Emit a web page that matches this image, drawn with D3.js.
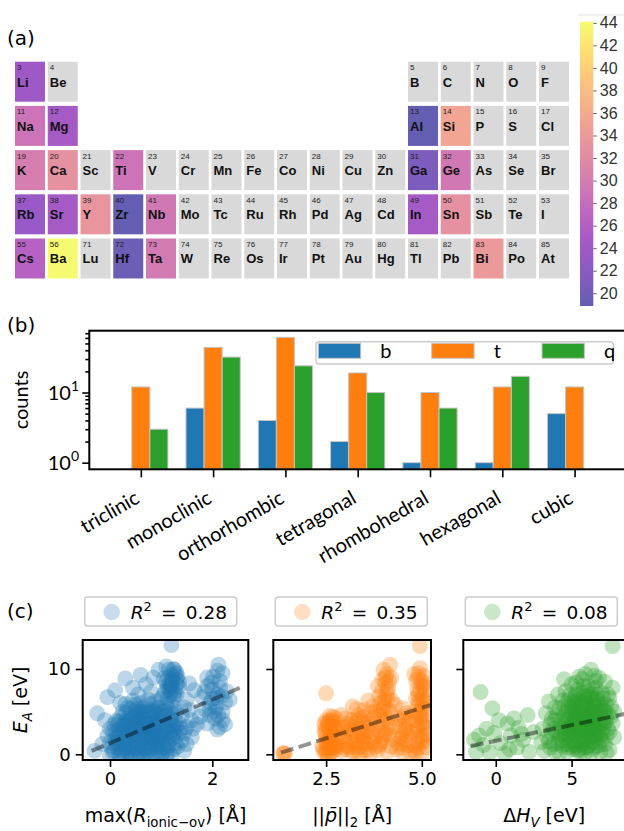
<!DOCTYPE html>
<html>
<head>
<meta charset="utf-8">
<script src="https://cdn.jsdelivr.net/npm/d3@7"></script>
<style>
  body { margin: 0; background: #fff; }
  svg { display: block; }
</style>
</head>
<body>
<svg id="fig" width="624" height="831"></svg>
<script>
// ---------- data ----------
// (a) periodic table: all shown elements, and the ones that carry a value
var ptSymbols = ["Li","Be","B","C","N","O","F",
  "Na","Mg","Al","Si","P","S","Cl",
  "K","Ca","Sc","Ti","V","Cr","Mn","Fe","Co","Ni","Cu","Zn","Ga","Ge","As","Se","Br",
  "Rb","Sr","Y","Zr","Nb","Mo","Tc","Ru","Rh","Pd","Ag","Cd","In","Sn","Sb","Te","I",
  "Cs","Ba","Lu","Hf","Ta","W","Re","Os","Ir","Pt","Au","Hg","Tl","Pb","Bi","Po","At"];
var ptNumbers = [3,4,5,6,7,8,9,
  11,12,13,14,15,16,17,
  19,20,21,22,23,24,25,26,27,28,29,30,31,32,33,34,35,
  37,38,39,40,41,42,43,44,45,46,47,48,49,50,51,52,53,
  55,56,71,72,73,74,75,76,77,78,79,80,81,82,83,84,85];
var valueSymbols = ["Li","Na","Mg","K","Ca","Ti","Rb","Sr","Y","Zr","Nb","Cs","Ba","Hf","Ta","Al","Si","Ga","Ge","In","Sn","Bi"];
var valueNumbers = [24, 29, 24.5, 30.3, 32.8, 29, 23.5, 24.5, 33.3, 19, 29.5, 26.5, 44, 19.5, 29.8, 19, 35.3, 20.7, 29.5, 24.5, 32.8, 34];
var cbarDomain = [18.87, 44.1];
var cbarTicks = [20, 22, 24, 26, 28, 30, 32, 34, 36, 38, 40, 42, 44];

// (b) counts per crystal system
var crystalSystems = ["triclinic","monoclinic","orthorhombic","tetragonal","rhombohedral","hexagonal","cubic"];
var seriesNames = ["b", "t", "q"];
var countsB = [0, 6, 4, 2, 1, 1, 5];
var countsT = [12, 44, 61, 19, 10, 12, 12];
var countsQ = [3, 32, 24, 10, 6, 17, 0];
var logMajorTicks = [1, 10];
var logMinorTicks = [2,3,4,5,6,7,8,9,20,30,40,50,60,70];

// (c) E_A against three descriptors
var rIonicPts = [[0.05,0.3],[0.15,0.8],[0.25,0.2],[0.35,1.0],[0.45,0.5],[0.55,0.1],[0.65,0.9],[0.75,0.4],[0.85,1.1],[0.95,0.3],[1.05,0.8],[1.15,0.2],[1.25,0.6],
  [0.1,1.8],[0.2,2.4],[0.3,1.6],[0.4,2.2],[0.5,1.5],[0.6,2.6],[0.7,1.9],[0.8,2.3],[0.9,1.7],[1.0,2.5],[1.1,1.9],[1.2,2.8],[1.3,2.1],
  [0.0,3.0],[0.15,3.4],[0.25,2.9],[0.35,3.6],[0.45,3.1],[0.55,3.8],[0.65,3.2],[0.75,3.7],[0.85,3.0],[0.95,3.5],[1.05,3.9],[1.15,3.3],[1.35,3.6],
  [0.2,4.3],[0.3,4.8],[0.4,4.1],[0.5,4.6],[0.6,4.2],[0.7,5.0],[0.8,4.4],[0.9,4.9],[1.0,4.3],[1.1,4.7],[1.2,4.2],[1.4,4.5],
  [0.35,5.5],[0.5,5.8],[0.65,5.4],[0.8,5.9],[0.95,5.5],[1.1,5.8],[0.45,6.3],[0.75,6.4],[1.0,6.5],
  [0.4,1.2],[0.6,1.4],[0.8,0.7],[0.5,2.9],[0.7,2.7],[0.6,3.5],[0.4,3.3],[0.9,2.6],[0.3,0.6],[0.7,0.2],[0.55,4.0],[0.85,3.8],[1.0,1.2],[1.15,1.4],[0.2,1.1],[0.1,2.5],[0.0,1.4],[-0.05,2.2],
  [0.28,2.0],[0.52,2.1],[0.62,1.1],[0.78,1.6],[0.88,0.2],[0.72,3.3],[0.48,3.6],[0.33,4.2],[0.58,4.9],[0.82,5.1],[1.08,5.1],[0.92,4.0],[1.22,3.5],[1.28,1.3],[0.18,0.1],[0.42,-0.1],[0.68,0.6],[0.98,2.0],[1.18,2.4],[0.12,3.9],
  [0.02,0.9],[0.12,1.3],[0.22,0.5],[0.32,1.9],[0.42,0.9],[0.52,1.2],[0.62,0.3],[0.72,1.3],[0.82,1.8],[0.92,0.9],[1.02,1.7],[1.12,0.6],[1.22,1.9],[1.32,0.9],
  [0.05,2.6],[0.15,2.0],[0.25,3.3],[0.35,2.6],[0.45,1.8],[0.55,2.4],[0.65,2.0],[0.75,2.4],[0.85,2.8],[0.95,2.3],[1.05,2.9],[1.15,2.6],[1.25,3.2],[1.35,2.6],
  [0.08,3.5],[0.18,3.8],[0.28,3.4],[0.38,3.9],[0.48,4.3],[0.58,3.3],[0.68,4.0],[0.78,3.1],[0.88,4.3],[0.98,3.8],[1.08,3.4],[1.18,4.0],[1.28,4.0],[1.38,3.0],
  [0.25,5.0],[0.4,5.3],[0.55,5.3],[0.7,5.6],[0.85,5.0],[1.0,5.0],[1.15,5.3],[1.3,5.0],[0.6,6.0],[0.9,6.2],[1.2,6.0],[0.3,5.9],
  [0.48,0.7],[0.58,1.8],[0.68,2.3],[0.78,2.9],[0.88,3.4],[0.98,4.6],[0.38,2.9],[0.28,1.2],[0.62,4.6],[0.72,4.4],[0.92,1.4],[1.02,0.2],[0.18,2.9],[0.08,0.4],
  [0.15,1.5],[0.35,0.3],[0.55,0.7],[0.75,1.0],[0.95,1.3],[1.15,1.0],[0.25,2.6],[0.45,2.6],[0.65,2.9],[0.85,2.0],[1.05,2.2],[1.25,2.4],[0.3,3.8],[0.5,3.4],[0.7,3.6],[0.9,3.2],[1.1,3.0],[1.3,3.3],[0.4,4.6],[0.6,5.0],[0.8,4.8],[1.0,4.6],[1.2,4.8],[0.5,5.2],[0.9,5.5],[1.25,5.5],
  [1.05,7.0],[1.15,7.6],[1.2,8.2],[1.25,7.2],[1.3,8.8],[1.1,8.5],[1.2,9.3],[1.15,9.9],[1.3,9.6],[1.35,7.9],[1.1,10.3],[1.25,6.8],[1.2,8.0],[1.3,8.3],[1.18,7.0],[1.22,8.9],
  [1.08,7.4],[1.18,7.9],[1.28,7.5],[1.12,8.0],[1.22,8.6],[1.32,9.1],[1.14,9.0],[1.26,9.9],[1.05,8.9],[1.35,8.5],[1.12,6.5],[1.2,7.4],[1.3,7.0],[1.16,8.4],[1.28,9.4],[1.24,10.0],
  [1.2,12.8],
  [-0.25,4.8],[-0.05,6.7],[0.3,8.9],[0.6,9.3],[0.95,9.9],[0.1,7.5],[0.45,7.8],[0.7,8.2],[0.8,7.3],[0.2,6.0],[-0.1,4.0],[0.55,7.0],[0.85,9.0],[-0.3,0.4],[-0.15,1.2],
  [1.45,2.5],[1.5,3.2],[1.55,5.2],[1.6,4.0],[1.5,6.4],[1.65,7.5],[1.45,5.5],[1.6,2.0],[1.7,3.5],[1.5,1.2],[1.4,1.6],[1.55,8.3],[1.45,0.4],[1.62,3.0],
  [1.76,4.4],[1.85,5.3],[1.95,6.0],[2.02,9.1],[2.12,10.5],[2.15,3.2],[2.2,4.0],[2.25,6.1],[2.34,6.4],[2.1,7.0],[1.9,8.0],[2.05,5.0],[2.15,8.6],[2.0,7.6],[1.8,6.7],[2.2,9.5],[1.9,3.6],[2.1,2.9],[2.28,7.4],[2.05,4.2],
  [1.9,9.0],[2.1,9.8],[2.0,6.5],[2.2,5.0],[1.95,4.6],[2.25,3.5],[1.85,7.3],[2.15,7.8],[2.08,5.6],[1.98,8.4],[2.08,6.6],[2.18,6.8],[1.95,5.4],[2.12,4.6],
  [0.2,-0.3],[0.4,-0.4],[0.6,-0.4],[0.8,-0.1],[1.0,-0.3],[1.2,-0.2],[0.0,-0.2],[0.3,-0.1],[0.5,-0.3],[0.7,-0.2],[0.9,-0.4],[1.1,-0.1]];

var pNormPts = [[1.38,0.1],[1.42,0.05],[1.4,0.15],[2.5,7.15],
  [2.45,0.2],[2.55,0.8],[2.65,0.3],[2.5,1.5],[2.6,2.0],[2.7,1.2],[2.45,2.7],[2.55,3.3],[2.65,2.6],[2.5,4.0],[2.6,4.5],[2.7,3.8],[2.75,0.6],[2.4,1.0],[2.55,-0.2],[2.7,2.9],[2.8,1.8],[2.45,3.6],[2.6,1.0],[2.75,4.2],
  [2.42,0.6],[2.52,1.1],[2.62,1.6],[2.72,2.2],[2.48,2.4],[2.58,2.9],[2.68,3.4],[2.48,3.1],[2.58,3.9],[2.68,4.4],[2.52,0.1],[2.78,1.0],[2.62,0.2],[2.75,3.1],
  [2.5,0.5],[2.6,1.3],[2.7,0.8],[2.5,2.0],[2.6,2.5],[2.7,3.2],[2.55,3.7],[2.65,4.0],
  [2.9,0.4],[3.0,1.5],[3.1,0.8],[3.2,2.3],[3.3,1.1],[3.4,3.0],[3.5,0.5],[3.6,2.0],[3.7,1.4],[2.95,3.2],[3.15,4.0],[3.35,4.6],[3.55,3.6],[3.75,4.3],[3.05,2.6],[3.25,0.2],[3.45,1.8],[3.65,0.1],[2.9,4.6],[3.3,5.3],[3.6,6.3],[3.5,5.2],[3.2,5.6],[3.1,2.9],[3.4,0.9],[3.7,2.8],
  [2.85,0.9],[2.95,2.0],[3.05,1.0],[3.15,1.8],[3.25,2.7],[3.35,2.0],[3.45,3.8],[3.55,1.2],[3.65,3.2],[3.75,2.0],[2.88,2.7],[3.08,3.6],[3.28,3.6],[3.48,2.6],[3.68,4.9],[3.18,0.3],[3.38,0.1],[3.58,0.5],[3.78,0.9],[3.0,4.2],[3.4,4.2],[3.7,5.6],
  [3.0,0.6],[3.2,1.4],[3.4,2.3],[3.6,2.6],[3.1,3.4],[3.3,4.0],[3.5,4.4],[3.7,3.6],[3.3,0.6],[3.5,1.4],[3.8,5.0],
  [3.85,0.5],[3.95,1.5],[4.05,2.5],[4.15,3.5],[3.9,4.5],[4.0,5.5],[4.1,6.5],[3.95,7.4],[4.05,8.3],[4.0,9.9],[4.17,10.5],[4.2,9.0],[3.85,8.0],[4.1,0.3],[4.25,1.8],[3.9,2.8],[4.2,4.8],[4.1,7.0],[3.9,6.0],[4.3,5.8],[4.0,3.9],[4.2,0.9],
  [3.88,1.0],[3.98,2.0],[4.08,3.0],[4.18,2.2],[3.92,3.5],[4.02,4.6],[4.12,5.2],[3.92,5.2],[4.02,6.4],[4.12,7.8],[3.98,8.8],[4.08,9.4],[3.88,6.8],[4.22,6.3],[4.15,8.6],
  [3.9,1.2],[4.0,2.3],[4.1,4.2],[4.0,6.0],[4.1,7.4],[4.05,9.0],[4.3,3.2],
  [4.35,0.6],[4.45,1.9],[4.55,3.0],[4.65,1.0],[4.4,4.1],[4.6,4.8],[4.5,0.2],[4.7,2.6],[4.5,5.4],[4.65,3.9],
  [4.38,1.3],[4.48,2.4],[4.58,1.6],[4.68,0.3],[4.42,3.4],[4.52,4.4],[4.62,2.2],[4.72,4.4],[4.45,0.8],[4.5,1.2],[4.6,2.8],[4.55,4.0],
  [4.8,0.4],[4.9,1.3],[5.0,2.2],[5.1,3.1],[4.85,4.0],[4.95,5.0],[5.05,6.0],[4.9,7.0],[5.0,8.0],[4.95,10.1],[5.05,9.2],[4.85,8.6],[5.1,7.5],[4.8,2.7],[5.1,0.8],[4.95,12.7],[5.0,3.6],[4.9,5.8],[5.05,4.5],[4.85,6.5],[5.1,5.3],[4.8,9.4],[5.0,0.1],
  [4.82,1.0],[4.92,2.0],[5.02,1.5],[5.12,2.3],[4.88,3.3],[4.98,4.3],[5.08,3.8],[4.82,5.0],[4.92,6.2],[5.02,6.8],[5.12,6.3],[4.88,7.6],[4.98,8.6],[5.08,8.4],[4.92,9.5],[5.02,5.5],[4.85,0.2],[5.15,1.5],
  [4.9,0.7],[5.0,1.8],[4.9,2.9],[5.05,3.3],[4.95,4.6],[5.0,6.4],[4.95,7.4],[5.05,8.0],[4.9,9.0]];

var dHvPts = [[-1.43,1.7],[-1.0,7.3],[-0.22,5.4],[0.77,3.6],[2.1,4.6],[-1.3,0.3],[-0.8,1.1],[-0.4,0.2],[-0.1,2.5],[0.3,1.3],[0.6,0.1],[1.0,2.2],[1.4,0.8],[1.5,3.1],[1.8,1.7],[2.2,0.3],[2.5,2.6],[-0.6,3.0],[0.2,4.0],[1.2,4.2],[-1.1,2.2],[0.9,0.6],[1.7,2.4],
  [3.2,0.4],[3.4,2.0],[3.6,3.5],[3.3,4.8],[3.8,1.2],[3.9,5.5],[4.0,2.6],[4.2,0.2],[4.2,4.0],[4.4,6.3],[4.4,1.6],[4.5,3.2],[4.6,7.4],[4.7,5.0],[4.8,0.8],[4.8,2.3],[4.9,4.1],[5.0,6.0],[5.0,8.2],[5.1,1.5],[5.2,3.0],[5.2,5.2],[5.3,7.0],[5.4,0.4],[5.4,2.2],[5.5,4.3],[5.5,9.1],[5.6,6.2],[5.7,1.2],[5.7,3.4],[5.8,5.0],[5.8,8.0],[5.9,0.2],[6.0,2.6],[6.0,4.4],[6.1,6.8],[6.2,1.6],[6.2,3.6],[6.28,9.9],[6.3,5.5],[6.4,7.6],[6.4,0.6],[6.5,2.8],[6.5,4.7],[6.6,8.6],[6.7,1.8],[6.7,6.0],[6.8,3.6],[6.9,0.3],[6.9,5.0],[7.0,7.2],[7.0,2.4],[7.1,4.0],[7.2,8.5],[7.2,1.2],[7.3,5.8],[7.4,3.0],[7.5,6.6],[7.5,0.5],[7.6,4.4],[7.7,12.7],[7.8,2.0],[7.7,7.8],[3.5,6.2],[4.1,7.0],[3.0,1.4],[3.1,3.0],[4.5,8.8],[5.9,9.4],[6.8,9.0],
  [4.6,2.0],[4.9,3.2],[5.1,4.6],[5.3,1.0],[5.6,2.8],[5.9,4.0],[6.1,1.0],[6.3,3.0],[6.5,5.6],[6.7,3.0],[5.0,5.4],[5.4,6.4],[5.8,6.8],[6.0,5.2],[6.4,6.4],[5.2,2.4],[5.6,4.8],[6.6,2.2],[4.7,4.0],[5.5,0.6],[6.2,4.6],[7.0,5.8],[4.3,3.0],[5.9,1.8],
  [4.4,1.0],[4.6,3.8],[4.8,5.6],[5.0,2.8],[5.1,0.6],[5.2,4.0],[5.3,6.0],[5.4,3.4],[5.5,1.6],[5.6,5.6],[5.7,7.2],[5.8,2.2],[5.9,3.0],[6.0,0.8],[6.0,6.2],[6.1,3.8],[6.2,2.4],[6.3,7.0],[6.4,4.0],[6.5,1.4],[6.6,3.4],[6.6,5.0],[6.7,7.0],[6.8,2.6],[6.9,4.4],[7.0,1.6],[7.1,3.2],[7.2,5.0],[7.3,2.2],[7.4,4.8],[4.2,2.0],[4.0,4.6],[3.8,3.0],[4.5,5.6],[4.9,7.0],[5.3,8.4],[5.7,8.8],[6.1,8.0],[6.5,9.2],[7.1,6.6],[3.6,0.8],[3.9,0.3],[5.2,1.2],[5.6,0.3],[6.3,0.2],[6.8,1.0],[7.3,0.2],[4.7,0.3],
  [5.05,3.6],[5.35,4.8],[5.65,3.9],[5.95,5.6],[6.25,5.1],[6.55,3.9],[6.85,5.6],[5.45,2.6],[5.75,1.9],[6.05,3.2],[6.35,2.0],[6.65,6.4],[4.85,1.6],[5.15,5.8],[5.85,4.4],[6.45,6.0],[7.25,3.8],[4.55,2.6],
  [4.75,3.0],[5.25,3.5],[5.55,5.0],[5.95,2.6],[6.15,4.2],[6.45,3.2],[6.75,4.8],[5.05,1.0],[5.85,0.8],[6.55,0.9],[4.95,4.8],[5.75,6.0],[6.35,6.6],[7.05,3.6],
  [3.5,1.5],[3.7,2.5],[3.9,4.0],[4.1,1.3],[4.3,2.3],[4.5,4.4],[4.7,1.2],[4.9,2.5],[5.1,3.3],[5.3,4.3],[5.5,3.0],[5.7,4.6],[5.9,6.2],[6.1,2.0],[6.3,4.0],[6.5,2.2],[6.7,4.2],[6.9,2.0],[7.1,5.2],[7.3,4.2],[7.5,2.6],[7.6,5.6],[7.4,7.0],[6.0,7.4],[5.4,7.6],[4.8,6.4],[4.2,5.4],[3.7,4.2],[5.2,6.6],[6.6,7.8],[7.7,3.6],[7.8,5.0]];

var fitSlopes = [2.55, 1.43, 0.37];
var fitIntercepts = [1.31, -1.70, 1.58];
var fitRanges = [[-0.36, 2.55], [1.32, 5.24], [-1.65, 8.5]];
var r2Labels = ["0.28", "0.35", "0.08"];

// ---------- figure ----------
var svg = d3.select("#fig");
var DEJAVU = "'DejaVu Sans', sans-serif",
    LATO = "Lato, sans-serif",
    ARIAL = "'Liberation Sans', Arial, sans-serif";

// mathtext-like labels: parts with italic / sub / sup
function richText(sel, parts, size) {
  var shift = 0;
  parts.forEach(function(p) {
    var target = p.sub ? 0.25 * size : p.sup ? -0.42 * size : 0;
    var ts = sel.append("tspan").text(p.t).attr("dy", target - shift);
    shift = target;
    if (p.sub || p.sup) ts.attr("font-size", size * 0.7);
    if (p.it) ts.attr("font-style", "italic");
  });
}

function panelLabel(txt, x, y) {
  svg.append("text").attr("x", x).attr("y", y)
    .attr("font-family", DEJAVU).attr("font-size", 20).text(txt);
}

// ===== (a) periodic table =====
panelLabel("(a)", 7, 45);

function period(z) { return z <= 10 ? 2 : z <= 18 ? 3 : z <= 36 ? 4 : z <= 54 ? 5 : 6; }
function group(z) {
  var p = period(z);
  if (p === 2) return z <= 4 ? z - 2 : z + 8;
  if (p === 3) return z <= 12 ? z - 10 : z;
  if (p === 4) return z - 18;
  if (p === 5) return z - 36;
  return z <= 56 ? z - 54 : z - 68;
}

var colScale = d3.scaleBand().domain(d3.range(1, 18)).range([15, 569]).paddingInner(0.084);
var rowScale = d3.scaleBand().domain([2, 3, 4, 5, 6]).range([61.7, 278.5]).paddingInner(0.095);
var plasma = d3.scaleSequential(d3.interpolatePlasma).domain(cbarDomain);
var valueBySymbol = {};
valueSymbols.forEach(function(s, i) { valueBySymbol[s] = valueNumbers[i]; });

var cells = svg.append("g").selectAll("g.cell")
  .data(ptSymbols.map(function(s, i) { return {sym: s, z: ptNumbers[i], v: valueBySymbol[s]}; }))
  .enter().append("g")
    .attr("class", "cell")
    .attr("transform", function(d) { return "translate(" + colScale(group(d.z)) + "," + rowScale(period(d.z)) + ")"; });

cells.append("rect")
  .attr("width", colScale.bandwidth())
  .attr("height", rowScale.bandwidth())
  .attr("fill", function(d) { return d.v === undefined ? "#d9d9d9" : plasma(d.v); })
  .attr("fill-opacity", function(d) { return d.v === undefined ? 1 : 0.65; });

cells.append("text")
  .attr("x", 2).attr("y", 8.5)
  .attr("font-family", ARIAL).attr("font-size", 8).attr("fill", "#222")
  .text(function(d) { return d.z; });

cells.append("text")
  .attr("x", 2).attr("y", 25)
  .attr("font-family", ARIAL).attr("font-size", 13).attr("font-weight", "bold").attr("fill", "#111")
  .text(function(d) { return d.sym; });

// colour bar
var cbScale = d3.scaleLinear().domain(cbarDomain).range([306, 21.7]);
var grad = svg.append("defs").append("linearGradient")
  .attr("id", "cbgrad").attr("x1", 0).attr("y1", 1).attr("x2", 0).attr("y2", 0);
d3.range(0, 1.0001, 0.05).forEach(function(t) {
  grad.append("stop").attr("offset", t).attr("stop-color", d3.interpolatePlasma(t));
});
svg.append("line").attr("x1", 578).attr("x2", 624).attr("y1", 15).attr("y2", 15)
  .attr("stroke", "#e2e2e2").attr("stroke-width", 1);
svg.append("rect")
  .attr("x", 580).attr("y", cbScale(cbarDomain[1]))
  .attr("width", 13.3).attr("height", cbScale(cbarDomain[0]) - cbScale(cbarDomain[1]))
  .attr("fill", "url(#cbgrad)").attr("fill-opacity", 0.65);
var cbAxis = svg.append("g").attr("transform", "translate(593.3,0)")
  .call(d3.axisRight(cbScale).tickValues(cbarTicks).tickSize(3.5).tickPadding(3));
cbAxis.select(".domain").remove();
cbAxis.selectAll(".tick line").attr("stroke", "#666");
cbAxis.selectAll("text").attr("font-family", ARIAL).attr("font-size", 16).attr("fill", "#333");

// ===== (b) bar chart =====
panelLabel("(b)", 7, 332);

var xb = d3.scaleLinear().domain([-0.7125, 6.7125]).range([89.3, 626.1]);
var yb = d3.scaleLog().domain([0.805, 76]).range([469.3, 330.7]);
var barColors = ["#1f77b4", "#ff7f0e", "#2ca02c"];
var barSeries = [countsB, countsT, countsQ];
var barW = 0.25;

var barRows = [];
barSeries.forEach(function(vals, s) {
  vals.forEach(function(v, i) {
    if (v > 0) barRows.push({s: s, i: i, v: v});
  });
});

svg.append("g").selectAll("rect")
  .data(barRows)
  .enter().append("rect")
    .attr("x", function(d) { return xb(d.i + (d.s - 1) * barW - barW / 2); })
    .attr("width", xb(barW) - xb(0))
    .attr("y", function(d) { return yb(d.v); })
    .attr("height", function(d) { return yb.range()[0] - yb(d.v); })
    .attr("fill", function(d) { return barColors[d.s]; })
    .attr("stroke", "#c4c4c4").attr("stroke-width", 1);

// axes
var yMaj = svg.append("g").attr("transform", "translate(89.3,0)")
  .call(d3.axisLeft(yb).tickValues(logMajorTicks).tickFormat("").tickSize(7));
var yMin = svg.append("g").attr("transform", "translate(89.3,0)")
  .call(d3.axisLeft(yb).tickValues(logMinorTicks).tickFormat("").tickSize(4));
var xAx = svg.append("g").attr("transform", "translate(0,469.3)")
  .call(d3.axisBottom(xb).tickValues(d3.range(crystalSystems.length)).tickFormat("").tickSize(8));
[yMaj, yMin, xAx].forEach(function(a) {
  a.select(".domain").remove();
  a.selectAll(".tick line").attr("stroke", "#000").attr("stroke-width", 1.6);
});
svg.append("rect").attr("x", 89.3).attr("y", 330.7).attr("width", 626.1 - 89.3).attr("height", 469.3 - 330.7)
  .attr("fill", "none").attr("stroke", "#000").attr("stroke-width", 2);

logMajorTicks.forEach(function(v) {
  var t = svg.append("text").attr("x", 79).attr("y", yb(v) + 7)
    .attr("text-anchor", "end").attr("font-family", LATO).attr("font-size", 20);
  richText(t, [{t: "10"}, {t: String(Math.round(Math.log10(v))), sup: true}], 20);
});

svg.append("text")
  .attr("transform", "translate(28," + ((330.7 + 469.3) / 2) + ") rotate(-90)")
  .attr("text-anchor", "middle").attr("font-family", LATO).attr("font-size", 20)
  .text("counts");

svg.append("g").selectAll("text")
  .data(crystalSystems)
  .enter().append("text")
    .attr("transform", function(d, i) { return "translate(" + xb(i) + ",502) rotate(-30)"; })
    .attr("text-anchor", "end").attr("font-family", LATO).attr("font-size", 20)
    .text(function(d) { return d; });

// legend
var lg = svg.append("g");
lg.append("rect").attr("x", 316).attr("y", 341.7).attr("width", 297.3).attr("height", 22.3)
  .attr("rx", 3).attr("fill", "#fff").attr("fill-opacity", 0.8)
  .attr("stroke", "#cccccc").attr("stroke-width", 1.5);
var lgX = [318.3, 431.7, 542];
seriesNames.forEach(function(n, s) {
  lg.append("rect").attr("x", lgX[s]).attr("y", 343.3).attr("width", 42.4).attr("height", 15)
    .attr("fill", barColors[s]).attr("stroke", "#c4c4c4").attr("stroke-width", 1);
  lg.append("text").attr("x", lgX[s] + 62).attr("y", 358)
    .attr("font-family", LATO).attr("font-size", 20).text(n);
});

// ===== (c) scatter panels =====
panelLabel("(c)", 7, 618);

var scatterColors = ["#1f77b4", "#ff7f0e", "#2ca02c"];
var panels = [
  {pts: rIonicPts, xd: [-0.534, 2.704], xr: [82.7, 248.3], xt: [0, 2], xf: d3.format("d"),
   label: [{t: "max("}, {t: "R", it: true}, {t: "ionic\u2212ov", sub: true}, {t: ") [\u00c5]"}]},
  {pts: pNormPts, xd: [1.12, 5.24], xr: [273.3, 431], xt: [2.5, 5.0], xf: d3.format(".1f"),
   label: [{t: "||"}, {t: "p\u0304", it: true}, {t: "||"}, {t: "2", sub: true}, {t: " [\u00c5]"}]},
  {pts: dHvPts, xd: [-2.14, 8.52], xr: [463.3, 625], xt: [0, 5], xf: d3.format("d"),
   label: [{t: "\u0394"}, {t: "H", it: true}, {t: "V", sub: true, it: true}, {t: " [eV]"}]}
];
var ys = d3.scaleLinear().domain([-0.668, 13.4]).range([760, 640]);
var defs = svg.select("defs");

panels.forEach(function(p, k) {
  var xs = d3.scaleLinear().domain(p.xd).range(p.xr);
  var left = p.xr[0], right = p.xr[1], w = right - left;

  defs.append("clipPath").attr("id", "clip" + k)
    .append("rect").attr("x", left).attr("y", 640).attr("width", w).attr("height", 120);

  var plot = svg.append("g").attr("clip-path", "url(#clip" + k + ")");
  plot.selectAll("circle")
    .data(p.pts)
    .enter().append("circle")
      .attr("cx", function(d) { return xs(d[0]); })
      .attr("cy", function(d) { return ys(d[1]); })
      .attr("r", 8)
      .attr("fill", scatterColors[k]).attr("fill-opacity", 0.3);

  var fit = d3.line()
    .x(function(d) { return xs(d); })
    .y(function(d) { return ys(fitIntercepts[k] + fitSlopes[k] * d); });
  plot.append("path").datum(fitRanges[k])
    .attr("d", fit)
    .attr("fill", "none").attr("stroke", "#000").attr("stroke-opacity", 0.42)
    .attr("stroke-width", 4).attr("stroke-dasharray", "13,5.5");

  // ticks
  var ax = svg.append("g").attr("transform", "translate(0,760)")
    .call(d3.axisBottom(xs).tickValues(p.xt).tickFormat(p.xf).tickSize(7).tickPadding(5));
  var ay = svg.append("g").attr("transform", "translate(" + left + ",0)")
    .call(d3.axisLeft(ys).tickValues([0, 10]).tickFormat(k === 0 ? d3.format("d") : "").tickSize(7).tickPadding(5));
  [ax, ay].forEach(function(a) {
    a.select(".domain").remove();
    a.selectAll(".tick line").attr("stroke", "#000").attr("stroke-width", 1.6);
    a.selectAll("text").attr("font-family", DEJAVU).attr("font-size", 18).attr("fill", "#000");
  });

  svg.append("rect").attr("x", left).attr("y", 640).attr("width", w).attr("height", 120)
    .attr("fill", "none").attr("stroke", "#000").attr("stroke-width", 2);

  // x label
  var xl = svg.append("text").attr("x", left + w / 2).attr("y", 822)
    .attr("text-anchor", "middle").attr("font-family", DEJAVU).attr("font-size", 19);
  richText(xl, p.label, 19);

  // legend
  var lx = left + 2;
  svg.append("rect").attr("x", lx).attr("y", 597).attr("width", 152).attr("height", 29)
    .attr("rx", 3).attr("fill", "#fff").attr("fill-opacity", 0.8)
    .attr("stroke", "#cccccc").attr("stroke-width", 1.5);
  svg.append("circle").attr("cx", lx + 27).attr("cy", 612).attr("r", 8.3)
    .attr("fill", scatterColors[k]).attr("fill-opacity", 0.25);
  var lt = svg.append("text").attr("x", lx + 46).attr("y", 619)
    .attr("font-family", DEJAVU).attr("font-size", 18.5);
  richText(lt, [{t: "R", it: true}, {t: "2", sup: true}, {t: "\u2002=\u2002" + r2Labels[k]}], 18.5);
});

// y label for (c)
var yl = svg.append("text")
  .attr("transform", "translate(27,700) rotate(-90)")
  .attr("text-anchor", "middle").attr("font-family", DEJAVU).attr("font-size", 19);
richText(yl, [{t: "E", it: true}, {t: "A", sub: true, it: true}, {t: " [eV]"}], 19);
</script>
</body>
</html>
